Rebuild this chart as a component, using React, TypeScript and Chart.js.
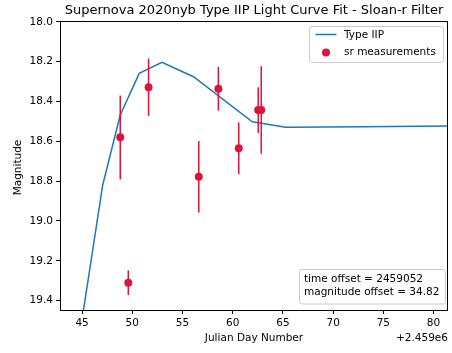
import React, { useEffect, useRef } from 'react';
import { Chart, registerables } from 'chart.js';

Chart.register(...registerables);

// Fitted Type IIP model curve (days offset from 2.459e6, magnitude)
const fitDays = [43.3, 47.05, 48.8, 50.69, 52.95, 56.09, 61.95, 65.27, 73.0, 85.0];
const fitMag = [20.05, 18.82, 18.468, 18.259, 18.204, 18.276, 18.502, 18.53, 18.527, 18.522];

// sr measurements
const measDays = [48.8, 49.6, 51.62, 56.62, 58.57, 60.6, 62.54, 62.84];
const measMag = [18.58, 19.31, 18.328, 18.778, 18.336, 18.635, 18.443, 18.443];
const measErr = [0.21, 0.062, 0.144, 0.18, 0.11, 0.13, 0.115, 0.22];

const titleText = 'Supernova 2020nyb Type IIP Light Curve Fit - Sloan-r Filter';
const xLabel = 'Julian Day Number';
const xOffsetLabel = '+2.459e6';
const yLabel = 'Magnitude';
const legendLabels = ['Type IIP', 'sr measurements'];
const infoLines = ['time offset = 2459052', 'magnitude offset = 34.82'];

const FONT = '"DejaVu Sans", sans-serif';
const FS = 10.5;
const BLUE = '#1f77b4';
const RED = '#dc143c';

const overlayPlugin = {
  id: 'overlay',
  beforeDatasetDraw(chart: any, args: any) {
    if (args.index !== 1) return;
    const { ctx, chartArea: a, scales } = chart;
    ctx.save();
    ctx.beginPath();
    ctx.rect(a.left, a.top, a.right - a.left, a.bottom - a.top);
    ctx.clip();
    ctx.strokeStyle = RED;
    ctx.lineWidth = 1.5;
    measDays.forEach((d, i) => {
      const x = scales.x.getPixelForValue(d);
      const y1 = scales.y.getPixelForValue(measMag[i] - measErr[i]);
      const y2 = scales.y.getPixelForValue(measMag[i] + measErr[i]);
      ctx.beginPath();
      ctx.moveTo(x, y1);
      ctx.lineTo(x, y2);
      ctx.stroke();
    });
    ctx.restore();
  },
  afterDraw(chart: any) {
    const { ctx, chartArea: a } = chart;
    ctx.save();
    // frame
    ctx.strokeStyle = '#000';
    ctx.lineWidth = 1;
    ctx.strokeRect(a.left + 0.5, a.top + 0.5, a.right - a.left - 1, a.bottom - a.top);
    ctx.fillStyle = '#000';
    // title
    ctx.font = `13px ${FONT}`;
    ctx.textAlign = 'center';
    ctx.textBaseline = 'middle';
    const cx = (a.left + a.right) / 2;
    ctx.fillText(titleText, cx, 11);
    // x label
    ctx.font = `${FS}px ${FONT}`;
    ctx.fillText(xLabel, cx, 338);
    ctx.textAlign = 'right';
    ctx.fillText(xOffsetLabel, a.right, 338);
    // y label
    ctx.save();
    ctx.translate(18, (a.top + a.bottom) / 2 + 2);
    ctx.rotate(-Math.PI / 2);
    ctx.textAlign = 'center';
    ctx.fillText(yLabel, 0, 0);
    ctx.restore();

    const box = (x: number, y: number, w: number, h: number) => {
      ctx.beginPath();
      (ctx as any).roundRect(x, y, w, h, 2.5);
      ctx.fillStyle = 'rgba(255,255,255,0.8)';
      ctx.fill();
      ctx.strokeStyle = '#cccccc';
      ctx.lineWidth = 1;
      ctx.stroke();
    };
    // legend
    const lx = a.right - 138.5;
    box(lx, 26.5, 134, 36);
    ctx.strokeStyle = BLUE;
    ctx.lineWidth = 1.5;
    ctx.beginPath();
    ctx.moveTo(lx + 6, 34.5);
    ctx.lineTo(lx + 27, 34.5);
    ctx.stroke();
    ctx.fillStyle = RED;
    ctx.beginPath();
    ctx.arc(lx + 16.5, 52.5, 4, 0, Math.PI * 2);
    ctx.fill();
    ctx.fillStyle = '#000';
    ctx.font = `${FS}px ${FONT}`;
    ctx.textAlign = 'left';
    ctx.textBaseline = 'middle';
    ctx.fillText(legendLabels[0], lx + 34.5, 35);
    ctx.fillText(legendLabels[1], lx + 34.5, 52.5);
    // info box
    const bx = a.right - 148.5;
    box(bx, 269.5, 146, 34.5);
    ctx.fillStyle = '#000';
    ctx.fillText(infoLines[0], bx + 4.5, 279.5);
    ctx.fillText(infoLines[1], bx + 4.5, 292);
    ctx.restore();
  },
};

export default function App() {
  const ref = useRef<HTMLCanvasElement | null>(null);
  useEffect(() => {
    document.body.style.margin = '0';
    const canvas = ref.current!;
    const chart = new Chart(canvas, {
      type: 'scatter',
      data: {
        datasets: [
          {
            label: legendLabels[0],
            data: fitDays.map((d, i) => ({ x: d, y: fitMag[i] })),
            showLine: true,
            borderColor: BLUE,
            backgroundColor: BLUE,
            borderWidth: 1.5,
            pointRadius: 0,
            tension: 0,
            order: 2,
          },
          {
            label: legendLabels[1],
            data: measDays.map((d, i) => ({ x: d, y: measMag[i] })),
            showLine: false,
            pointRadius: 4,
            pointHoverRadius: 4,
            pointBorderWidth: 0,
            backgroundColor: RED,
            borderColor: RED,
            order: 1,
          },
        ],
      },
      options: {
        animation: false,
        responsive: false,
        devicePixelRatio: 1,
        layout: { padding: { left: 0, right: 3, top: 21, bottom: 0 } },
        plugins: { legend: { display: false }, tooltip: { enabled: false }, title: { display: false } },
        events: [],
        scales: {
          x: {
            type: 'linear',
            min: 42.8,
            max: 81.44,
            afterFit: (s: any) => { s.height = 43; },
            grid: { drawOnChartArea: false, drawTicks: true, tickLength: 4, color: '#000' },
            border: { display: false },
            ticks: {
              stepSize: 5,
              includeBounds: false,
              padding: 3,
              color: '#000',
              font: { family: FONT, size: FS },
              maxRotation: 0,
              callback: (v: any) => String(v),
            },
          },
          y: {
            type: 'linear',
            reverse: true,
            min: 17.996,
            max: 19.447,
            afterFit: (s: any) => { s.width = 60; },
            grid: { drawOnChartArea: false, drawTicks: true, tickLength: 4, color: '#000' },
            border: { display: false },
            ticks: {
              stepSize: 0.2,
              includeBounds: false,
              padding: 3,
              color: '#000',
              font: { family: FONT, size: FS },
              callback: (v: any) => Number(v).toFixed(1),
            },
          },
        },
      },
      plugins: [overlayPlugin],
    } as any);
    return () => chart.destroy();
  }, []);
  return (
    <div style={{ position: 'absolute', left: 0, top: 0, width: 452, height: 353 }}>
      <canvas ref={ref} width={452} height={353} style={{ width: 452, height: 353 }} />
    </div>
  );
}
